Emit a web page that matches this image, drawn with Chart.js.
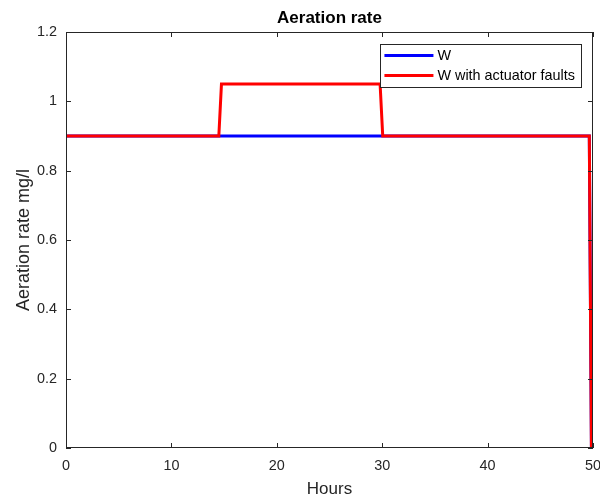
<!DOCTYPE html>
<html>
<head>
<meta charset="utf-8">
<script src="https://cdn.jsdelivr.net/npm/chart.js@4"></script>
<style>
  html, body { margin: 0; padding: 0; background: #fff; }
  #wrap { width: 600px; height: 500px; position: relative; }
</style>
</head>
<body>
<div id="wrap"><canvas id="myChart" width="600" height="500"></canvas></div>
<script>
const hours = [0, 14.5, 14.75, 29.8, 30.05, 49.65, 49.85]
const w = [0.9, 0.9, 0.9, 0.9, 0.9, 0.9, 0]
const wFaults = [0.9, 0.9, 1.05, 1.05, 0.9, 0.9, 0]
const seriesLabels = ["W", "W with actuator faults"]
const xTicks = [0, 10, 20, 30, 40, 50]
const yTicks = [0, 0.2, 0.4, 0.6, 0.8, 1, 1.2]

const FONT = "'Liberation Sans', Arial, sans-serif"
const AXIS_COLOR = "#262626"

function toPoints(xs, ys) {
	return xs.map((x, i) => ({ x: x, y: ys[i] }))
}

// box round the plot with inward ticks on all four sides, MATLAB style
const boxPlugin = {
	id: "box",
	afterDatasetsDraw(chart) {
		const { ctx, chartArea: a, scales } = chart
		ctx.save()
		ctx.strokeStyle = AXIS_COLOR
		ctx.lineWidth = 1
		ctx.strokeRect(a.left + 0.5, a.top + 0.5, a.right - a.left - 1, a.bottom - a.top - 1)
		const len = 5
		ctx.beginPath()
		xTicks.forEach(v => {
			const px = Math.round(scales.x.getPixelForValue(v)) + 0.5
			ctx.moveTo(px, a.bottom); ctx.lineTo(px, a.bottom - len)
			ctx.moveTo(px, a.top); ctx.lineTo(px, a.top + len)
		})
		yTicks.forEach(v => {
			const py = Math.round(scales.y.getPixelForValue(v)) + 0.5
			ctx.moveTo(a.left, py); ctx.lineTo(a.left + len, py)
			ctx.moveTo(a.right, py); ctx.lineTo(a.right - len, py)
		})
		ctx.stroke()
		ctx.restore()
	}
}

// legend drawn inside the plot, top right
const insideLegend = {
	id: "insideLegend",
	afterDraw(chart) {
		const { ctx, chartArea: a } = chart
		const sets = chart.data.datasets
		ctx.save()
		ctx.font = "14.4px " + FONT
		let maxW = 0
		sets.forEach(d => { maxW = Math.max(maxW, ctx.measureText(d.label).width) })
		const rowH = 20
		const boxW = 4 + 49 + 4 + maxW + 6
		const boxH = sets.length * rowH + 3
		const right = a.right - 12
		const left = right - boxW
		const top = a.top + 12
		ctx.fillStyle = "#fff"
		ctx.fillRect(left, top, boxW, boxH)
		ctx.strokeStyle = AXIS_COLOR
		ctx.lineWidth = 1
		ctx.strokeRect(Math.round(left) + 0.5, top + 0.5, Math.round(boxW), boxH)
		sets.forEach((d, i) => {
			const y = top + 11.5 + i * rowH
			ctx.strokeStyle = d.borderColor
			ctx.lineWidth = 3
			ctx.beginPath()
			ctx.moveTo(left + 4, y)
			ctx.lineTo(left + 53, y)
			ctx.stroke()
			ctx.fillStyle = "#000"
			ctx.textBaseline = "middle"
			ctx.textAlign = "left"
			ctx.fillText(d.label, left + 57, y + 1)
		})
		ctx.restore()
	}
}

new Chart("myChart", {
	type: "line",
	data: {
		datasets: [
			{
				label: seriesLabels[0],
				data: toPoints(hours, w),
				borderColor: "#0000ff",
				borderWidth: 3,
				pointRadius: 0,
				tension: 0,
				order: 1
			},
			{
				label: seriesLabels[1],
				data: toPoints(hours, wFaults),
				borderColor: "#ff0000",
				borderWidth: 3,
				pointRadius: 0,
				tension: 0,
				order: 0
			}
		]
	},
	options: {
		responsive: false,
		animation: false,
		layout: { padding: { left: 0, right: 7, top: 0, bottom: 0 } },
		plugins: {
			legend: { display: false },
			tooltip: { enabled: false },
			title: {
				display: true,
				text: "Aeration rate",
				fullSize: false,
				color: "#000",
				font: { family: FONT, size: 17, weight: "bold", lineHeight: 1.2 },
				padding: { top: 7.8, bottom: 3.8 }
			}
		},
		scales: {
			x: {
				type: "linear",
				min: 0,
				max: 50,
				afterBuildTicks: s => { s.ticks = xTicks.map(v => ({ value: v })) },
				afterFit: s => {
					s.height = 52
					s.paddingLeft = 0
					s.paddingRight = 0
				},
				grid: { display: false, drawTicks: false },
				border: { display: false },
				ticks: { color: AXIS_COLOR, padding: 9, maxRotation: 0, font: { family: FONT, size: 14.4 } },
				title: {
					display: true,
					text: "Hours",
					color: AXIS_COLOR,
					font: { family: FONT, size: 17, lineHeight: 1.2 },
					padding: { top: 0, bottom: 0 }
				}
			},
			y: {
				min: 0,
				max: 1.2,
				afterBuildTicks: s => { s.ticks = yTicks.map(v => ({ value: v })) },
				afterFit: s => {
					s.width = 66
					s.paddingTop = 0
					s.paddingBottom = 0
				},
				grid: { display: false, drawTicks: false },
				border: { display: false },
				ticks: {
					color: AXIS_COLOR,
					padding: 9,
					font: { family: FONT, size: 14.4 },
					callback: v => String(v)
				},
				title: {
					display: true,
					text: "Aeration rate mg/l",
					color: AXIS_COLOR,
					font: { family: FONT, size: 18, lineHeight: 1.2 },
					padding: { top: 13.7, bottom: 0 }
				}
			}
		}
	},
	plugins: [boxPlugin, insideLegend]
})
</script>
</body>
</html>
